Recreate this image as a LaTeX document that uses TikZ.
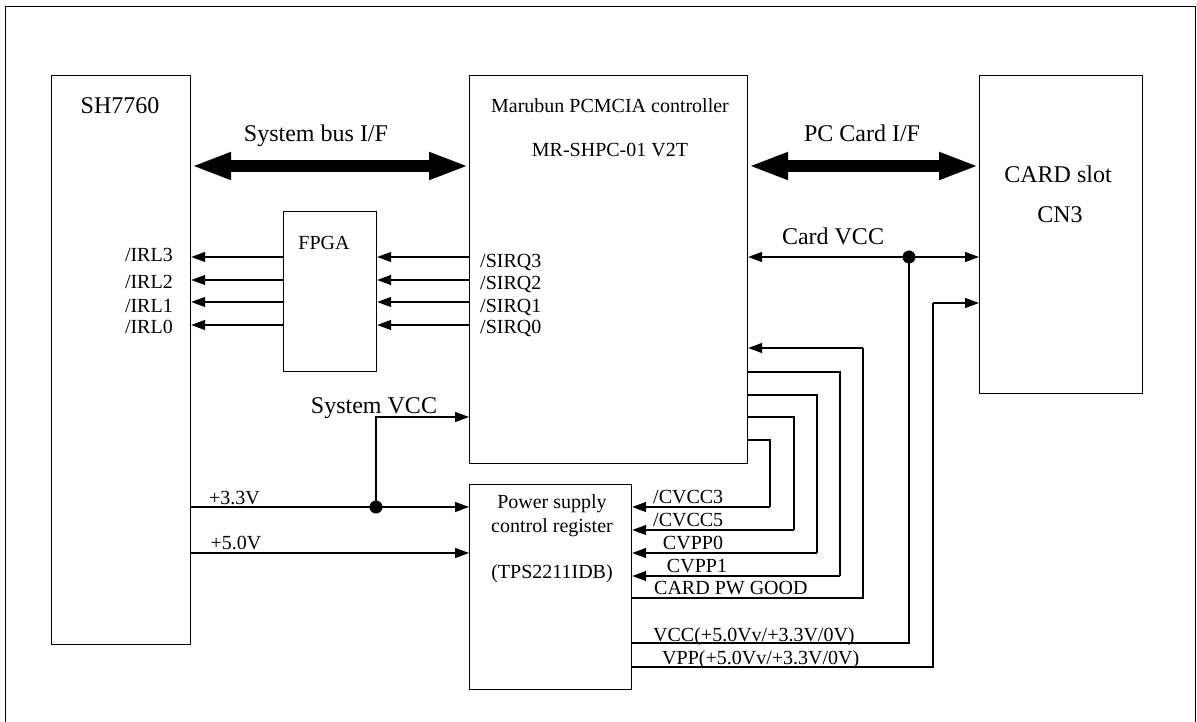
\documentclass[tikz,border=0pt]{standalone}
\usepackage{fontspec}
\setmainfont{Liberation Serif}
\usetikzlibrary{arrows.meta,calc}
\begin{document}
\begin{tikzpicture}[x=1pt,y=-1pt,
  box/.style={draw,line width=1.2pt,inner sep=0,anchor=north west},
  sm/.style={font=\fontsize{20}{24}\selectfont,inner sep=0},
  lg/.style={font=\fontsize{24}{28}\selectfont,inner sep=0},
  wire/.style={line width=1.3pt},
  sig/.style={wire,-{Triangle[length=14pt,width=10pt]}},
  bus/.style={line width=12pt,{Triangle[length=40pt,width=25pt]}-{Triangle[length=40pt,width=25pt]}},
  jdot/.style={circle,fill,inner sep=0,minimum size=13pt}
]
\useasboundingbox (0,0) rectangle (1197,722);
\draw[line width=1pt] (5,740) -- (5,7) -- (1195,7) -- (1195,740);

% boxes
\node[box,minimum width=139pt,minimum height=569pt] (sh) at (51,75) {};
\node[box,minimum width=278pt,minimum height=388pt] (ctrl) at (469,75) {};
\node[box,minimum width=163pt,minimum height=318pt] (card) at (979,75) {};
\node[box,minimum width=93pt,minimum height=160pt] (fpga) at (283,211) {};
\node[box,minimum width=162pt,minimum height=205pt] (psu) at (469,484) {};

% box texts
\node[lg,anchor=base] (tsh) at (120,113.5) {SH7760};
\node[sm,anchor=base] (tc1) at (610,113) {Marubun PCMCIA controller};
\node[sm,anchor=base] (tc2) at (610,156.6) {MR-SHPC-01 V2T};
\node[lg,anchor=base] (tcard1) at (1058,183) {CARD slot};
\node[lg,anchor=base] (tcard2) at (1060,223) {CN3};
\node[sm,anchor=base] (tfpga) at (324,249.6) {FPGA};
\node[sm,anchor=base] (tp1) at (552,508.5) {Power supply};
\node[sm,anchor=base] (tp2) at (552,532.7) {control register};
\node[sm,anchor=base] (tp3) at (552,578.6) {(TPS2211IDB)};

% row coordinates
\coordinate (rbus) at (0,166);
\coordinate (r3) at (0,257);
\coordinate (r2) at (0,280);
\coordinate (r1) at (0,302);
\coordinate (r0) at (0,325);

% buses
\draw[bus] (sh.east |- rbus) -- (ctrl.west |- rbus);
\draw[bus] (ctrl.east |- rbus) -- (card.west |- rbus);
\node[lg,anchor=base] (lsys) at (316,142) {System bus I/F};
\node[lg,anchor=base] (lpc) at (862,142) {PC Card I/F};

% interrupt lines
\foreach \r in {r3,r2,r1,r0}{
  \draw[sig] (fpga.west |- \r) -- (sh.east |- \r);
  \draw[sig] (ctrl.west |- \r) -- (fpga.east |- \r);
}
\node[sm,anchor=base east] (irl3) at (173,261.6) {/IRL3};
\node[sm,anchor=base east] (irl2) at (173,288.6) {/IRL2};
\node[sm,anchor=base east] (irl1) at (173,312.6) {/IRL1};
\node[sm,anchor=base east] (irl0) at (173,333.6) {/IRL0};
\node[sm,anchor=base west] (sq3) at (480,267.6) {/SIRQ3};
\node[sm,anchor=base west] (sq2) at (480,289.6) {/SIRQ2};
\node[sm,anchor=base west] (sq1) at (480,312.6) {/SIRQ1};
\node[sm,anchor=base west] (sq0) at (480,333.6) {/SIRQ0};

% supply from SH7760
\node[jdot] (d33) at (376,507) {};
\coordinate (rsys) at (0,417);
\coordinate (r50) at (0,553);
\draw[sig] (sh.east |- d33) -- (psu.west |- d33);
\draw[sig] (d33.center) |- (ctrl.west |- rsys);
\draw[sig] (sh.east |- r50) -- (psu.west |- r50);
\node[sm,anchor=base] (l33) at (234.5,504.6) {+3.3V};
\node[sm,anchor=base] (l50) at (236,549.6) {+5.0V};
\node[lg,anchor=base] (lsvcc) at (374,413) {System VCC};

% card VCC
\node[jdot] (dcv) at (909,257) {};
\draw[sig] (dcv.center) -- (card.west |- dcv);
\draw[sig] (dcv.center) -- (ctrl.east |- dcv);
\coordinate (rvcc) at (0,643);
\draw[wire] (psu.east |- rvcc) -| (dcv.center);
\node[lg,anchor=base] (lcvcc) at (833,245) {Card VCC};

% VPP
\coordinate (vppcorner) at (933,303);
\coordinate (rvpp) at (0,667);
\draw[wire] (psu.east |- rvpp) -| (vppcorner);
\draw[sig] (vppcorner) -- (card.west |- vppcorner);

% control lines controller <-> power supply
\coordinate (cpg) at (863,348);
\coordinate (rpg) at (0,598);
\draw[wire] (psu.east |- rpg) -| (cpg);
\draw[sig] (cpg) -- (ctrl.east |- cpg);

\coordinate (cp1a) at (840,372); \coordinate (cp1b) at (840,576);
\coordinate (cp0a) at (817,395); \coordinate (cp0b) at (817,553);
\coordinate (cc5a) at (794,417); \coordinate (cc5b) at (794,530);
\coordinate (cc3a) at (770,440); \coordinate (cc3b) at (770,507);
\draw[wire] (ctrl.east |- cp1a) -- (cp1a) -- (cp1b);
\draw[sig] (cp1b) -- (psu.east |- cp1b);
\draw[wire] (ctrl.east |- cp0a) -- (cp0a) -- (cp0b);
\draw[sig] (cp0b) -- (psu.east |- cp0b);
\draw[wire] (ctrl.east |- cc5a) -- (cc5a) -- (cc5b);
\draw[sig] (cc5b) -- (psu.east |- cc5b);
\draw[wire] (ctrl.east |- cc3a) -- (cc3a) -- (cc3b);
\draw[sig] (cc3b) -- (psu.east |- cc3b);

\node[sm,anchor=base west] (lc3) at (653,503.6) {/CVCC3};
\node[sm,anchor=base west] (lc5) at (653,526.6) {/CVCC5};
\node[sm,anchor=base] (lp0) at (693,549.6) {CVPP0};
\node[sm,anchor=base] (lp1) at (697,572.6) {CVPP1};
\node[sm,anchor=base west] (lpg) at (654,594.6) {CARD PW GOOD};
\node[sm,anchor=base west] (lvcc) at (653,641.7) {VCC(+5.0Vv/+3.3V/0V)};
\node[sm,anchor=base west] (lvpp) at (662,664) {VPP(+5.0Vv/+3.3V/0V)};
\end{tikzpicture}
\end{document}
